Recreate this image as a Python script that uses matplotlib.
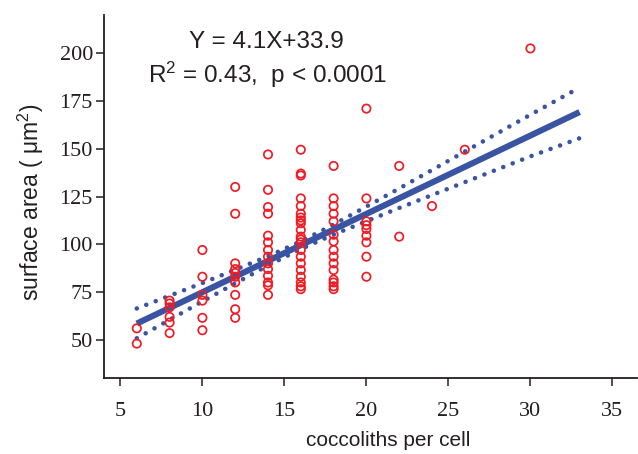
import matplotlib
matplotlib.use("Agg")
import matplotlib.pyplot as plt
import numpy as np

# ---- data ----
x6 = [6, 6]
y6 = [56, 48]
x8 = [8] * 6
y8 = [70.5, 69, 67, 62, 59, 53.5]
x10 = [10] * 6
y10 = [97, 83, 73.5, 70.5, 61.5, 55]
x12 = [12] * 10
y12 = [130, 116, 90, 87, 85, 83, 80, 73.5, 66, 61.5]
x14 = [14] * 14
y14 = [147, 128.5, 119.5, 116, 104.5, 101, 97, 93.5, 90, 87, 83.5, 80, 78.5, 73.5]
x16 = [16] * 21
y16 = [149.5, 137, 136, 124, 120, 116, 114, 112.5, 111, 107.5, 104, 102.5, 101,
       97, 93.5, 90, 86.5, 83, 80, 78, 76.5]
x18 = [18] * 15
y18 = [141, 124, 120, 116, 112, 105, 101.5, 97, 93.5, 90, 86.5, 81.5, 80, 78, 76.5]
x20 = [20] * 9
y20 = [171, 124, 112, 110, 108, 104.5, 101, 93.5, 83]
x_rest = [22, 22, 24, 26, 30]
y_rest = [141, 104, 120, 149.5, 202.5]

slope = 4.1
intercept = 33.9
fit_x = [6, 33]

band_x = [6, 10, 14, 16, 18, 22, 26, 30, 33]
band_upper = [66.4, 79.7, 93.7, 101.5, 110.3, 129.2, 148.5, 167.8, 182.0]
band_lower = [50.8, 70.1, 88.9, 97.5, 105.1, 119.0, 132.5, 146.0, 155.5]

xticks = [5, 10, 15, 20, 25, 30, 35]
yticks = [50, 75, 100, 125, 150, 175, 200]

# ---- style ----
plt.rcParams['mathtext.fontset'] = 'custom'
plt.rcParams['mathtext.rm'] = 'Liberation Sans'
plt.rcParams['mathtext.it'] = 'Liberation Sans:italic'

BLUE = '#3A54A4'
RED = '#EE1C25'
DARK = '#231F20'

fig = plt.figure(figsize=(6.38, 4.54), dpi=100)
ax = fig.add_axes([104 / 638, 76 / 454, 533 / 638, 363 / 454])

xs = x6 + x8 + x10 + x12 + x14 + x16 + x18 + x20 + x_rest
ys = y6 + y8 + y10 + y12 + y14 + y16 + y18 + y20 + y_rest

fx = np.array(fit_x, dtype=float)
ax.plot(fx, slope * fx + intercept, color=BLUE, lw=4.4, solid_capstyle='butt', zorder=2)
ax.plot(band_x, band_upper, color=BLUE, lw=3.3, linestyle=(0, (0.01, 2.2)),
        dash_capstyle='round', zorder=2)
ax.plot(band_x, band_lower, color=BLUE, lw=3.3, linestyle=(0, (0.01, 2.2)),
        dash_capstyle='round', zorder=2)
ax.scatter(xs, ys, s=36, facecolors='none', edgecolors=RED, linewidths=1.25, zorder=3)

ax.set_xlim(4, 36.5)
ax.set_ylim(30, 220)
ax.set_xticks(xticks)
ax.set_yticks(yticks)
ax.set_xticklabels([str(t) for t in xticks], fontfamily='Liberation Serif', fontsize=16, color=DARK)
ax.set_yticklabels([str(t) for t in yticks], fontfamily='Liberation Serif', fontsize=16, color=DARK)

for s in ['top', 'right']:
    ax.spines[s].set_visible(False)
for s in ['left', 'bottom']:
    ax.spines[s].set_linewidth(1.3)
    ax.spines[s].set_color(DARK)
ax.tick_params(axis='both', direction='out', length=6, width=1.1, color=DARK)
ax.tick_params(axis='x', pad=11)
ax.tick_params(axis='y', pad=2)

fig.text(388 / 638, 1 - 440 / 454, 'coccoliths per cell', fontfamily='Liberation Sans',
         fontsize=15, color=DARK, ha='center', va='center')
fig.text(31 / 638, 1 - 202 / 454, r'surface area ( $\mathrm{\mu m}^2$)', fontfamily='Liberation Sans',
         fontsize=16.5, color=DARK, ha='center', va='center', rotation=90)

fig.text(266 / 638, 1 - 42 / 454, 'Y = 4.1X+33.9', fontfamily='Liberation Sans', fontsize=17.5,
         color=DARK, ha='center', va='center')
fig.text(268 / 638, 1 - 75 / 454, r'R$^2$ = 0.43,  p < 0.0001', fontfamily='Liberation Sans',
         fontsize=17.5, color=DARK, ha='center', va='center')

fig.savefig('out.png', dpi=100)
